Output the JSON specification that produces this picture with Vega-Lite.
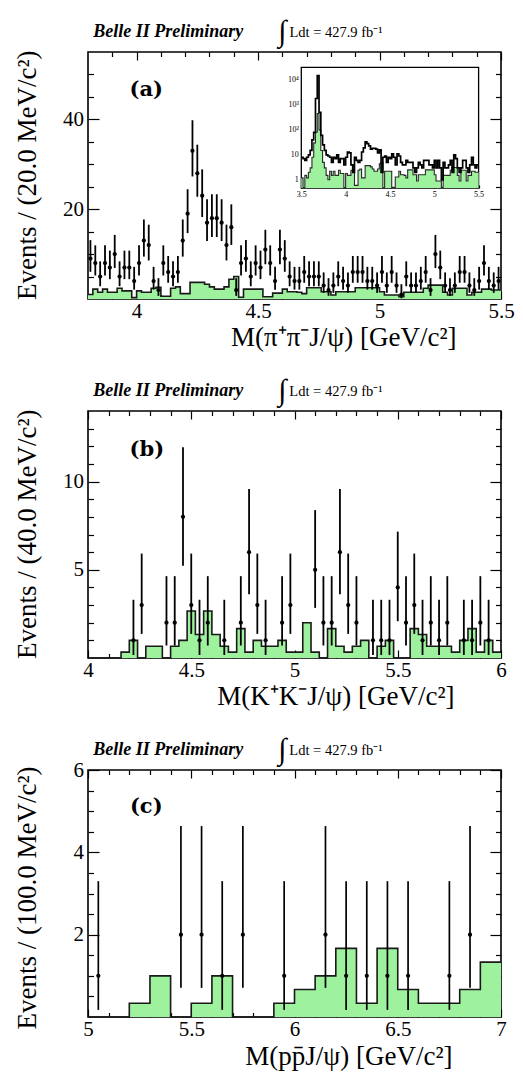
{
"$schema": "https://vega.github.io/schema/vega-lite/v6.json",
"background": "white",
"padding": {"left": 12, "top": 16, "right": 5, "bottom": 5},
"spacing": 24,
"config": {
  "view": {"stroke": "black", "strokeWidth": 1.6},
  "font": "Liberation Serif",
  "axis": {"grid": false, "domain": false, "labelFont": "Liberation Serif", "labelFontSize": 21, "labelColor": "black", "tickColor": "black", "tickWidth": 1.2, "titleFont": "Liberation Serif", "titleFontWeight": "normal", "titleColor": "black", "labelOverlap": false, "labelFlush": false, "labelBound": false}
},
"datasets": {
  "a_hist": [
    {"lo":3.80,"g":1.0},{"lo":3.82,"g":2.2},{"lo":3.84,"g":1.5},{"lo":3.86,"g":2.2},{"lo":3.88,"g":1.5},{"lo":3.90,"g":1.5},{"lo":3.92,"g":2.4},{"lo":3.94,"g":1.8},{"lo":3.96,"g":1.8},{"lo":3.98,"g":0.3},
    {"lo":4.00,"g":1.8},{"lo":4.02,"g":1.5},{"lo":4.04,"g":1.5},{"lo":4.06,"g":2.4},{"lo":4.08,"g":2.6},{"lo":4.10,"g":0.6},{"lo":4.12,"g":0.6},{"lo":4.14,"g":2.4},{"lo":4.16,"g":2.7},{"lo":4.18,"g":1.2},
    {"lo":4.20,"g":1.2},{"lo":4.22,"g":3.7},{"lo":4.24,"g":3.7},{"lo":4.26,"g":3.7},{"lo":4.28,"g":3.3},{"lo":4.30,"g":2.7},{"lo":4.32,"g":2.2},{"lo":4.34,"g":2.2},{"lo":4.36,"g":2.7},{"lo":4.38,"g":4.4},
    {"lo":4.40,"g":5.0},{"lo":4.42,"g":0.4},{"lo":4.44,"g":2.2},{"lo":4.46,"g":2.2},{"lo":4.48,"g":2.2},{"lo":4.50,"g":2.2},{"lo":4.52,"g":0.5},{"lo":4.54,"g":0.5},{"lo":4.56,"g":1.3},{"lo":4.58,"g":1.3},
    {"lo":4.60,"g":2.2},{"lo":4.62,"g":1.6},{"lo":4.64,"g":1.6},{"lo":4.66,"g":1.5},{"lo":4.68,"g":1.2},{"lo":4.70,"g":2.5},{"lo":4.72,"g":2.5},{"lo":4.74,"g":2.5},{"lo":4.76,"g":1.6},{"lo":4.78,"g":1.6},
    {"lo":4.80,"g":0.9},{"lo":4.82,"g":1.6},{"lo":4.84,"g":1.6},{"lo":4.86,"g":1.6},{"lo":4.88,"g":1.6},{"lo":4.90,"g":2.5},{"lo":4.92,"g":2.5},{"lo":4.94,"g":2.5},{"lo":4.96,"g":2.5},{"lo":4.98,"g":2.5},
    {"lo":5.00,"g":1.6},{"lo":5.02,"g":0.9},{"lo":5.04,"g":0.9},{"lo":5.06,"g":0.9},{"lo":5.08,"g":0.5},{"lo":5.10,"g":1.5},{"lo":5.12,"g":1.5},{"lo":5.14,"g":1.5},{"lo":5.16,"g":1.5},{"lo":5.18,"g":2.4},
    {"lo":5.20,"g":3.1},{"lo":5.22,"g":3.1},{"lo":5.24,"g":3.1},{"lo":5.26,"g":1.5},{"lo":5.28,"g":0.9},{"lo":5.30,"g":2.4},{"lo":5.32,"g":2.4},{"lo":5.34,"g":2.4},{"lo":5.36,"g":0.9},{"lo":5.38,"g":1.5},
    {"lo":5.40,"g":1.5},{"lo":5.42,"g":2.2},{"lo":5.44,"g":2.2},{"lo":5.46,"g":2.0},{"lo":5.48,"g":2.0},{"lo":5.50,"g":2.0}
  ],
  "a_pts": [
    {"m":3.81,"n":9,"el":6.057,"eh":13.11},{"m":3.83,"n":8,"el":5.232,"eh":11.95},{"m":3.85,"n":5,"el":2.84,"eh":8.382},{"m":3.87,"n":8,"el":5.232,"eh":11.95},{"m":3.89,"n":7,"el":4.419,"eh":10.77},
    {"m":3.91,"n":10,"el":6.891,"eh":14.27},{"m":3.93,"n":5,"el":2.84,"eh":8.382},{"m":3.95,"n":7,"el":4.419,"eh":10.77},{"m":3.97,"n":7,"el":4.419,"eh":10.77},{"m":3.99,"n":4,"el":2.086,"eh":7.163},
    {"m":4.01,"n":8,"el":5.232,"eh":11.95},{"m":4.03,"n":13,"el":9.441,"eh":17.7},{"m":4.05,"n":12,"el":8.585,"eh":16.55},{"m":4.07,"n":4,"el":2.086,"eh":7.163},{"m":4.09,"n":2,"el":0.708,"eh":4.638},
    {"m":4.11,"n":8,"el":5.232,"eh":11.95},{"m":4.13,"n":6,"el":3.62,"eh":9.584},{"m":4.15,"n":5,"el":2.84,"eh":8.382},{"m":4.17,"n":6,"el":3.62,"eh":9.584},{"m":4.19,"n":13,"el":9.441,"eh":17.7},
    {"m":4.21,"n":19,"el":14.67,"eh":24.44},{"m":4.23,"n":33,"el":27.29,"eh":39.81},{"m":4.25,"n":28,"el":22.77,"eh":34.36},{"m":4.27,"n":23,"el":18.25,"eh":28.87},{"m":4.29,"n":17,"el":12.91,"eh":22.21},
    {"m":4.31,"n":18,"el":13.79,"eh":23.33},{"m":4.33,"n":18,"el":13.79,"eh":23.33},{"m":4.35,"n":17,"el":12.91,"eh":22.21},{"m":4.37,"n":12,"el":8.585,"eh":16.55},{"m":4.39,"n":16,"el":12.04,"eh":21.08},
    {"m":4.41,"n":2,"el":0.708,"eh":4.638},{"m":4.43,"n":8,"el":5.232,"eh":11.95},{"m":4.45,"n":9,"el":6.057,"eh":13.11},{"m":4.47,"n":5,"el":2.84,"eh":8.382},{"m":4.49,"n":8,"el":5.232,"eh":11.95},
    {"m":4.51,"n":7,"el":4.419,"eh":10.77},{"m":4.53,"n":11,"el":7.734,"eh":15.41},{"m":4.55,"n":8,"el":5.232,"eh":11.95},{"m":4.57,"n":4,"el":2.086,"eh":7.163},{"m":4.59,"n":11,"el":7.734,"eh":15.41},
    {"m":4.61,"n":9,"el":6.057,"eh":13.11},{"m":4.63,"n":5,"el":2.84,"eh":8.382},{"m":4.65,"n":4,"el":2.086,"eh":7.163},{"m":4.67,"n":4,"el":2.086,"eh":7.163},{"m":4.69,"n":6,"el":3.62,"eh":9.584},
    {"m":4.71,"n":5,"el":2.84,"eh":8.382},{"m":4.73,"n":5,"el":2.84,"eh":8.382},{"m":4.75,"n":5,"el":2.84,"eh":8.382},{"m":4.77,"n":3,"el":1.367,"eh":5.918},{"m":4.79,"n":2,"el":0.708,"eh":4.638},
    {"m":4.81,"n":3,"el":1.367,"eh":5.918},{"m":4.83,"n":5,"el":2.84,"eh":8.382},{"m":4.85,"n":4,"el":2.086,"eh":7.163},{"m":4.87,"n":3,"el":1.367,"eh":5.918},{"m":4.89,"n":6,"el":3.62,"eh":9.584},
    {"m":4.91,"n":6,"el":3.62,"eh":9.584},{"m":4.93,"n":6,"el":3.62,"eh":9.584},{"m":4.95,"n":4,"el":2.086,"eh":7.163},{"m":4.97,"n":4,"el":2.086,"eh":7.163},{"m":4.99,"n":3,"el":1.367,"eh":5.918},
    {"m":5.01,"n":6,"el":3.62,"eh":9.584},{"m":5.03,"n":3,"el":1.367,"eh":5.918},{"m":5.05,"n":6,"el":3.62,"eh":9.584},{"m":5.07,"n":3,"el":1.367,"eh":5.918},{"m":5.09,"n":1,"el":0.173,"eh":3.3},
    {"m":5.11,"n":5,"el":2.84,"eh":8.382},{"m":5.13,"n":3,"el":1.367,"eh":5.918},{"m":5.15,"n":3,"el":1.367,"eh":5.918},{"m":5.17,"n":4,"el":2.086,"eh":7.163},{"m":5.19,"n":6,"el":3.62,"eh":9.584},
    {"m":5.21,"n":2,"el":0.708,"eh":4.638},{"m":5.23,"n":10,"el":6.891,"eh":14.27},{"m":5.25,"n":7,"el":4.419,"eh":10.77},{"m":5.27,"n":3,"el":1.367,"eh":5.918},{"m":5.29,"n":2,"el":0.708,"eh":4.638},
    {"m":5.31,"n":3,"el":1.367,"eh":5.918},{"m":5.33,"n":6,"el":3.62,"eh":9.584},{"m":5.35,"n":6,"el":3.62,"eh":9.584},{"m":5.37,"n":3,"el":1.367,"eh":5.918},{"m":5.39,"n":2,"el":0.708,"eh":4.638},
    {"m":5.41,"n":4,"el":2.086,"eh":7.163},{"m":5.43,"n":8,"el":5.232,"eh":11.95},{"m":5.45,"n":4,"el":2.086,"eh":7.163},{"m":5.47,"n":3,"el":1.367,"eh":5.918},{"m":5.49,"n":4,"el":2.086,"eh":7.163}
  ],
  "inset": [
    {"lo":3.50,"v":8,"g":1.2},{"lo":3.52,"v":7,"g":0.3},{"lo":3.54,"v":6,"g":1.5},{"lo":3.56,"v":8,"g":1.2},{"lo":3.58,"v":10,"g":2},
    {"lo":3.60,"v":15,"g":3},{"lo":3.62,"v":40,"g":8},{"lo":3.64,"v":80,"g":30},{"lo":3.66,"v":1800,"g":80},{"lo":3.68,"v":15000,"g":450},
    {"lo":3.70,"v":500,"g":100},{"lo":3.72,"v":60,"g":15},{"lo":3.74,"v":25,"g":5},{"lo":3.76,"v":15,"g":3},{"lo":3.78,"v":10,"g":1.5},
    {"lo":3.80,"v":9,"g":1.0},{"lo":3.82,"v":8,"g":2.2},{"lo":3.84,"v":5,"g":1.5},{"lo":3.86,"v":8,"g":2.2},{"lo":3.88,"v":7,"g":1.5},{"lo":3.90,"v":10,"g":1.5},{"lo":3.92,"v":5,"g":2.4},{"lo":3.94,"v":7,"g":1.8},{"lo":3.96,"v":7,"g":1.8},{"lo":3.98,"v":4,"g":0.3},
    {"lo":4.00,"v":8,"g":1.8},{"lo":4.02,"v":13,"g":1.5},{"lo":4.04,"v":12,"g":1.5},{"lo":4.06,"v":4,"g":2.4},{"lo":4.08,"v":2,"g":2.6},{"lo":4.10,"v":8,"g":0.6},{"lo":4.12,"v":6,"g":0.6},{"lo":4.14,"v":5,"g":2.4},{"lo":4.16,"v":6,"g":2.7},{"lo":4.18,"v":13,"g":1.2},
    {"lo":4.20,"v":19,"g":1.2},{"lo":4.22,"v":33,"g":3.7},{"lo":4.24,"v":28,"g":3.7},{"lo":4.26,"v":23,"g":3.7},{"lo":4.28,"v":17,"g":3.3},{"lo":4.30,"v":18,"g":2.7},{"lo":4.32,"v":18,"g":2.2},{"lo":4.34,"v":17,"g":2.2},{"lo":4.36,"v":12,"g":2.7},{"lo":4.38,"v":16,"g":4.4},
    {"lo":4.40,"v":2,"g":5.0},{"lo":4.42,"v":8,"g":0.4},{"lo":4.44,"v":9,"g":2.2},{"lo":4.46,"v":5,"g":2.2},{"lo":4.48,"v":8,"g":2.2},{"lo":4.50,"v":7,"g":2.2},{"lo":4.52,"v":11,"g":0.5},{"lo":4.54,"v":8,"g":0.5},{"lo":4.56,"v":4,"g":1.3},{"lo":4.58,"v":11,"g":1.3},
    {"lo":4.60,"v":9,"g":2.2},{"lo":4.62,"v":5,"g":1.6},{"lo":4.64,"v":4,"g":1.6},{"lo":4.66,"v":4,"g":1.5},{"lo":4.68,"v":6,"g":1.2},{"lo":4.70,"v":5,"g":2.5},{"lo":4.72,"v":5,"g":2.5},{"lo":4.74,"v":5,"g":2.5},{"lo":4.76,"v":3,"g":1.6},{"lo":4.78,"v":2,"g":1.6},
    {"lo":4.80,"v":3,"g":0.9},{"lo":4.82,"v":5,"g":1.6},{"lo":4.84,"v":4,"g":1.6},{"lo":4.86,"v":3,"g":1.6},{"lo":4.88,"v":6,"g":1.6},{"lo":4.90,"v":6,"g":2.5},{"lo":4.92,"v":6,"g":2.5},{"lo":4.94,"v":4,"g":2.5},{"lo":4.96,"v":4,"g":2.5},{"lo":4.98,"v":3,"g":2.5},
    {"lo":5.00,"v":6,"g":1.6},{"lo":5.02,"v":3,"g":0.9},{"lo":5.04,"v":6,"g":0.9},{"lo":5.06,"v":3,"g":0.9},{"lo":5.08,"v":1,"g":0.5},{"lo":5.10,"v":5,"g":1.5},{"lo":5.12,"v":3,"g":1.5},{"lo":5.14,"v":3,"g":1.5},{"lo":5.16,"v":4,"g":1.5},{"lo":5.18,"v":6,"g":2.4},
    {"lo":5.20,"v":2,"g":3.1},{"lo":5.22,"v":10,"g":3.1},{"lo":5.24,"v":7,"g":3.1},{"lo":5.26,"v":3,"g":1.5},{"lo":5.28,"v":2,"g":0.9},{"lo":5.30,"v":3,"g":2.4},{"lo":5.32,"v":6,"g":2.4},{"lo":5.34,"v":6,"g":2.4},{"lo":5.36,"v":3,"g":0.9},{"lo":5.38,"v":2,"g":1.5},
    {"lo":5.40,"v":4,"g":1.5},{"lo":5.42,"v":8,"g":2.2},{"lo":5.44,"v":4,"g":2.2},{"lo":5.46,"v":3,"g":2.0},{"lo":5.48,"v":4,"g":2.0},{"lo":5.50,"v":4,"g":2.0}
  ],
  "b_hist": [
    {"lo":4.00,"g":0},{"lo":4.04,"g":0},{"lo":4.08,"g":0},{"lo":4.12,"g":0},{"lo":4.16,"g":0.333},{"lo":4.20,"g":1},{"lo":4.24,"g":0},{"lo":4.28,"g":0.667},{"lo":4.32,"g":0.667},{"lo":4.36,"g":0},
    {"lo":4.40,"g":0.667},{"lo":4.44,"g":1},{"lo":4.48,"g":2.667},{"lo":4.52,"g":1.333},{"lo":4.56,"g":2.667},{"lo":4.60,"g":1.333},{"lo":4.64,"g":0.667},{"lo":4.68,"g":0.333},{"lo":4.72,"g":1.667},{"lo":4.76,"g":0.333},
    {"lo":4.80,"g":1},{"lo":4.84,"g":0.667},{"lo":4.88,"g":0.667},{"lo":4.92,"g":1},{"lo":4.96,"g":0.333},{"lo":5.00,"g":0.333},{"lo":5.04,"g":2},{"lo":5.08,"g":0.333},{"lo":5.12,"g":0},{"lo":5.16,"g":1.667},
    {"lo":5.20,"g":0.667},{"lo":5.24,"g":0.333},{"lo":5.28,"g":0.667},{"lo":5.32,"g":1},{"lo":5.36,"g":0},{"lo":5.40,"g":0.667},{"lo":5.44,"g":1},{"lo":5.48,"g":0},{"lo":5.52,"g":0},{"lo":5.56,"g":1.667},
    {"lo":5.60,"g":1.333},{"lo":5.64,"g":0.667},{"lo":5.68,"g":0.667},{"lo":5.72,"g":0.667},{"lo":5.76,"g":0.333},{"lo":5.80,"g":1},{"lo":5.84,"g":1.667},{"lo":5.88,"g":0.333},{"lo":5.92,"g":1},{"lo":5.96,"g":0.333},{"lo":6.00,"g":0.333}
  ],
  "b_pts": [
    {"m":4.22,"n":1,"el":0.173,"eh":3.3},{"m":4.26,"n":3,"el":1.367,"eh":5.918},{"m":4.38,"n":2,"el":0.708,"eh":4.638},{"m":4.42,"n":2,"el":0.708,"eh":4.638},{"m":4.46,"n":8,"el":5.232,"eh":11.95},
    {"m":4.50,"n":3,"el":1.367,"eh":5.918},{"m":4.54,"n":1,"el":0.173,"eh":3.3},{"m":4.58,"n":2,"el":0.708,"eh":4.638},{"m":4.66,"n":1,"el":0.173,"eh":3.3},{"m":4.74,"n":2,"el":0.708,"eh":4.638},
    {"m":4.78,"n":6,"el":3.62,"eh":9.584},{"m":4.82,"n":3,"el":1.367,"eh":5.918},{"m":4.86,"n":1,"el":0.173,"eh":3.3},{"m":4.94,"n":2,"el":0.708,"eh":4.638},{"m":4.98,"n":3,"el":1.367,"eh":5.918},
    {"m":5.10,"n":5,"el":2.84,"eh":8.382},{"m":5.14,"n":2,"el":0.708,"eh":4.638},{"m":5.18,"n":2,"el":0.708,"eh":4.638},{"m":5.22,"n":6,"el":3.62,"eh":9.584},{"m":5.26,"n":3,"el":1.367,"eh":5.918},
    {"m":5.30,"n":2,"el":0.708,"eh":4.638},{"m":5.38,"n":1,"el":0.173,"eh":3.3},{"m":5.42,"n":1,"el":0.173,"eh":3.3},{"m":5.46,"n":1,"el":0.173,"eh":3.3},{"m":5.50,"n":4,"el":2.086,"eh":7.163},
    {"m":5.54,"n":2,"el":0.708,"eh":4.638},{"m":5.58,"n":3,"el":1.367,"eh":5.918},{"m":5.62,"n":1,"el":0.173,"eh":3.3},{"m":5.66,"n":2,"el":0.708,"eh":4.638},{"m":5.70,"n":1,"el":0.173,"eh":3.3},
    {"m":5.74,"n":2,"el":0.708,"eh":4.638},{"m":5.82,"n":1,"el":0.173,"eh":3.3},{"m":5.86,"n":1,"el":0.173,"eh":3.3},{"m":5.90,"n":2,"el":0.708,"eh":4.638},{"m":5.94,"n":1,"el":0.173,"eh":3.3}
  ],
  "c_hist": [
    {"lo":5.0,"g":0},{"lo":5.1,"g":0},{"lo":5.2,"g":0.333},{"lo":5.3,"g":1},{"lo":5.4,"g":0},{"lo":5.5,"g":0.333},{"lo":5.6,"g":1},{"lo":5.7,"g":0},{"lo":5.8,"g":0},{"lo":5.9,"g":0.333},
    {"lo":6.0,"g":0.667},{"lo":6.1,"g":1},{"lo":6.2,"g":1.667},{"lo":6.3,"g":0.333},{"lo":6.4,"g":1.667},{"lo":6.5,"g":0.667},{"lo":6.6,"g":0.333},{"lo":6.7,"g":0.333},{"lo":6.8,"g":0.667},{"lo":6.9,"g":1.333},{"lo":7.0,"g":1.333}
  ],
  "c_pts": [
    {"m":5.05,"n":1,"el":0.173,"eh":3.3},{"m":5.45,"n":2,"el":0.708,"eh":4.638},{"m":5.55,"n":2,"el":0.708,"eh":4.638},{"m":5.65,"n":1,"el":0.173,"eh":3.3},{"m":5.75,"n":2,"el":0.708,"eh":4.638},
    {"m":5.95,"n":1,"el":0.173,"eh":3.3},{"m":6.15,"n":2,"el":0.708,"eh":4.638},{"m":6.25,"n":1,"el":0.173,"eh":3.3},{"m":6.35,"n":1,"el":0.173,"eh":3.3},{"m":6.45,"n":1,"el":0.173,"eh":3.3},
    {"m":6.55,"n":1,"el":0.173,"eh":3.3},{"m":6.75,"n":1,"el":0.173,"eh":3.3},{"m":6.85,"n":2,"el":0.708,"eh":4.638}
  ]
},
"vconcat": [
{
  "width": 413, "height": 247,
  "layer": [
    {
      "layer": [
        {"data": {"name": "a_hist"}, "mark": {"type": "area", "interpolate": "step-after", "fill": "#9ef29e"},
         "encoding": {
           "x": {"field": "lo", "type": "quantitative", "scale": {"domain": [3.8, 5.5], "nice": false, "zero": false},
                 "axis": {"orient": "bottom", "values": [3.9,4,4.1,4.2,4.3,4.4,4.5,4.6,4.7,4.8,4.9,5,5.1,5.2,5.3,5.4,5.5], "format": "~g",
                          "labelExpr": "abs(datum.value*2-round(datum.value*2))<0.001 ? datum.label : ''",
                          "tickSize": {"condition": {"test": "abs(datum.value*2-round(datum.value*2))<0.001", "value": -8}, "value": -4.5},
                          "labelPadding": 9, "title": "M(π⁺π⁻J/ψ) [GeV/c²]", "titleFontSize": 27, "titleX": 368, "titleY": 38, "titleAlign": "right", "titleBaseline": "middle"}},
           "y": {"field": "g", "type": "quantitative", "stack": null, "scale": {"domain": [0, 55], "nice": false},
                 "axis": {"orient": "left", "values": [5,10,15,20,25,30,35,40,45,50], "format": "~g",
                          "labelExpr": "datum.value % 20 === 0 ? datum.label : ''",
                          "tickSize": {"condition": {"test": "datum.value % 20 === 0", "value": -11}, "value": -5.5},
                          "labelPadding": 15.5, "title": "Events / (20.0 MeV/c²)", "titleFontSize": 27, "titleX": -61, "titleY": -2, "titleAngle": -90, "titleAlign": "right", "titleBaseline": "middle"}}
         }},
        {"data": {"name": "a_hist"}, "mark": {"type": "line", "interpolate": "step-after", "stroke": "#1a1a1a", "strokeWidth": 1.6},
         "encoding": {
           "x": {"field": "lo", "type": "quantitative", "scale": {"domain": [3.8, 5.5], "nice": false, "zero": false},
                 "axis": {"orient": "top", "values": [3.9,4,4.1,4.2,4.3,4.4,4.5,4.6,4.7,4.8,4.9,5,5.1,5.2,5.3,5.4,5.5], "labels": false, "title": null,
                          "tickSize": {"condition": {"test": "abs(datum.value*2-round(datum.value*2))<0.001", "value": -8}, "value": -4.5}}},
           "y": {"field": "g", "type": "quantitative", "scale": {"domain": [0, 55], "nice": false},
                 "axis": {"orient": "right", "values": [5,10,15,20,25,30,35,40,45,50], "labels": false, "title": null,
                          "tickSize": {"condition": {"test": "datum.value % 20 === 0", "value": -11}, "value": -5.5}}}
         }},
        {"data": {"name": "a_pts"}, "mark": {"type": "rule", "strokeWidth": 1.8, "color": "black"},
         "encoding": {
           "x": {"field": "m", "type": "quantitative", "scale": {"domain": [3.8, 5.5], "nice": false, "zero": false}, "axis": null},
           "y": {"field": "el", "type": "quantitative", "scale": {"domain": [0, 55], "nice": false}, "axis": null},
           "y2": {"field": "eh"}
         }},
        {"data": {"name": "a_pts"}, "mark": {"type": "circle", "size": 18, "color": "black", "opacity": 1},
         "encoding": {
           "x": {"field": "m", "type": "quantitative", "scale": {"domain": [3.8, 5.5], "nice": false, "zero": false}, "axis": null},
           "y": {"field": "n", "type": "quantitative", "scale": {"domain": [0, 55], "nice": false}, "axis": null}
         }},
        {"data": {"values": [{"t": "Belle II Preliminary"}]}, "mark": {"type": "text", "font": "Liberation Serif", "fontStyle": "italic", "fontWeight": "bold", "fontSize": 18, "align": "left", "baseline": "alphabetic", "color": "black"},
         "encoding": {"x": {"datum": 3.8218, "type": "quantitative", "axis": null}, "y": {"datum": 58.34, "type": "quantitative", "axis": null}, "text": {"field": "t"}}},
        {"data": {"values": [{"t": "∫"}]}, "mark": {"type": "text", "font": "Liberation Serif", "fontSize": 30, "align": "center", "baseline": "middle", "color": "black"},
         "encoding": {"x": {"datum": 4.6, "type": "quantitative", "axis": null}, "y": {"datum": 59.45, "type": "quantitative", "axis": null}, "text": {"field": "t"}}},
        {"data": {"values": [{"t": "Ldt = 427.9 fb⁻¹"}]}, "mark": {"type": "text", "font": "Liberation Serif", "fontSize": 14.5, "align": "left", "baseline": "alphabetic", "color": "black"},
         "encoding": {"x": {"datum": 4.629, "type": "quantitative", "axis": null}, "y": {"datum": 58.34, "type": "quantitative", "axis": null}, "text": {"field": "t"}}},
        {"data": {"values": [{"t": "(a)"}]}, "mark": {"type": "text", "font": "DejaVu Serif", "fontWeight": "bold", "fontSize": 21, "align": "center", "baseline": "middle", "color": "black"},
         "encoding": {"x": {"datum": 4.04, "type": "quantitative", "axis": null}, "y": {"datum": 46.5, "type": "quantitative", "axis": null}, "text": {"field": "t"}}}
      ],
      "resolve": {"axis": {"x": "independent", "y": "independent"}}
    },
    {
      "layer": [
        {"data": {"values": [{}]}, "mark": {"type": "rect", "fill": "white", "stroke": "black", "strokeWidth": 1.3},
         "encoding": {
           "x": {"datum": 3.5, "type": "quantitative", "scale": {"domain": [3.5, 5.5], "range": [213.3, 390.6], "nice": false, "zero": false}, "axis": null},
           "x2": {"datum": 5.5},
           "y": {"datum": 0.47, "type": "quantitative", "scale": {"type": "log", "domain": [0.47, 32000], "range": [136, 15.3], "nice": false, "clamp": true}, "axis": null},
           "y2": {"datum": 32000}
         }},
        {"data": {"name": "inset"}, "mark": {"type": "area", "interpolate": "step-after", "fill": "#9ef29e"},
         "encoding": {
           "x": {"field": "lo", "type": "quantitative", "scale": {"domain": [3.5, 5.5], "range": [213.3, 390.6], "nice": false, "zero": false},
                 "axis": {"orient": "bottom", "offset": -111, "values": [3.5,4,4.5,5,5.5], "format": "~g", "labelFontSize": 8, "tickSize": -3, "labelPadding": 5, "title": null}},
           "y": {"field": "g", "type": "quantitative", "stack": null, "scale": {"type": "log", "domain": [0.47, 32000], "range": [136, 15.3], "nice": false, "clamp": true},
                 "axis": {"orient": "left", "offset": -213.3, "values": [1,10,100,1000,10000], "labelFontSize": 8, "tickSize": -4, "labelPadding": 7, "title": null,
                          "labelExpr": "datum.value >= 10000 ? '10⁴' : datum.value >= 1000 ? '10³' : datum.value >= 100 ? '10²' : datum.value >= 10 ? '10' : '1'"}},
           "y2": {"datum": 0.47}
         }},
        {"data": {"name": "inset"}, "mark": {"type": "line", "interpolate": "step-after", "stroke": "#2a2a2a", "strokeWidth": 1.1},
         "encoding": {
           "x": {"field": "lo", "type": "quantitative", "scale": {"domain": [3.5, 5.5], "range": [213.3, 390.6], "nice": false, "zero": false}, "axis": null},
           "y": {"field": "g", "type": "quantitative", "scale": {"type": "log", "domain": [0.47, 32000], "range": [136, 15.3], "nice": false, "clamp": true}, "axis": null}
         }},
        {"data": {"name": "inset"}, "mark": {"type": "line", "interpolate": "step-after", "stroke": "black", "strokeWidth": 1.7},
         "encoding": {
           "x": {"field": "lo", "type": "quantitative", "scale": {"domain": [3.5, 5.5], "range": [213.3, 390.6], "nice": false, "zero": false}, "axis": null},
           "y": {"field": "v", "type": "quantitative", "scale": {"type": "log", "domain": [0.47, 32000], "range": [136, 15.3], "nice": false, "clamp": true}, "axis": null}
         }}
      ],
      "resolve": {"axis": {"x": "independent", "y": "independent"}}
    }
  ],
  "resolve": {"scale": {"x": "independent", "y": "independent"}}
},
{
  "width": 413, "height": 247,
  "layer": [
    {"data": {"name": "b_hist"}, "mark": {"type": "area", "interpolate": "step-after", "fill": "#9ef29e"},
     "encoding": {
       "x": {"field": "lo", "type": "quantitative", "scale": {"domain": [4, 6], "nice": false, "zero": false},
             "axis": {"orient": "bottom", "values": [4,4.1,4.2,4.3,4.4,4.5,4.6,4.7,4.8,4.9,5,5.1,5.2,5.3,5.4,5.5,5.6,5.7,5.8,5.9,6], "format": "~g",
                      "labelExpr": "abs(datum.value*2-round(datum.value*2))<0.001 ? datum.label : ''",
                      "tickSize": {"condition": {"test": "abs(datum.value*2-round(datum.value*2))<0.001", "value": -8}, "value": -4.5},
                      "labelPadding": 9, "title": "M(K⁺K⁻J/ψ) [GeV/c²]", "titleFontSize": 27, "titleX": 366, "titleY": 38, "titleAlign": "right", "titleBaseline": "middle"}},
       "y": {"field": "g", "type": "quantitative", "stack": null, "scale": {"domain": [0, 14], "nice": false},
             "axis": {"orient": "left", "values": [1,2,3,4,5,6,7,8,9,10,11,12,13], "format": "~g",
                      "labelExpr": "datum.value % 5 === 0 ? datum.label : ''",
                      "tickSize": {"condition": {"test": "datum.value % 5 === 0", "value": -11}, "value": -5.5},
                      "labelPadding": 15.5, "title": "Events / (40.0 MeV/c²)", "titleFontSize": 27, "titleX": -61, "titleY": -2, "titleAngle": -90, "titleAlign": "right", "titleBaseline": "middle"}}
     }},
    {"data": {"name": "b_hist"}, "mark": {"type": "line", "interpolate": "step-after", "stroke": "#1a1a1a", "strokeWidth": 1.6},
     "encoding": {
       "x": {"field": "lo", "type": "quantitative", "scale": {"domain": [4, 6], "nice": false, "zero": false},
             "axis": {"orient": "top", "values": [4,4.1,4.2,4.3,4.4,4.5,4.6,4.7,4.8,4.9,5,5.1,5.2,5.3,5.4,5.5,5.6,5.7,5.8,5.9,6], "labels": false, "title": null,
                      "tickSize": {"condition": {"test": "abs(datum.value*2-round(datum.value*2))<0.001", "value": -8}, "value": -4.5}}},
       "y": {"field": "g", "type": "quantitative", "scale": {"domain": [0, 14], "nice": false},
             "axis": {"orient": "right", "values": [1,2,3,4,5,6,7,8,9,10,11,12,13], "labels": false, "title": null,
                      "tickSize": {"condition": {"test": "datum.value % 5 === 0", "value": -11}, "value": -5.5}}}
     }},
    {"data": {"name": "b_pts"}, "mark": {"type": "rule", "strokeWidth": 1.8, "color": "black"},
     "encoding": {
       "x": {"field": "m", "type": "quantitative", "scale": {"domain": [4, 6], "nice": false, "zero": false}, "axis": null},
       "y": {"field": "el", "type": "quantitative", "scale": {"domain": [0, 14], "nice": false}, "axis": null},
       "y2": {"field": "eh"}
     }},
    {"data": {"name": "b_pts"}, "mark": {"type": "circle", "size": 18, "color": "black", "opacity": 1},
     "encoding": {
       "x": {"field": "m", "type": "quantitative", "scale": {"domain": [4, 6], "nice": false, "zero": false}, "axis": null},
       "y": {"field": "n", "type": "quantitative", "scale": {"domain": [0, 14], "nice": false}, "axis": null}
     }},
    {"data": {"values": [{"t": "Belle II Preliminary"}]}, "mark": {"type": "text", "font": "Liberation Serif", "fontStyle": "italic", "fontWeight": "bold", "fontSize": 18, "align": "left", "baseline": "alphabetic", "color": "black"},
     "encoding": {"x": {"datum": 4.0257, "type": "quantitative", "axis": null}, "y": {"datum": 14.85, "type": "quantitative", "axis": null}, "text": {"field": "t"}}},
    {"data": {"values": [{"t": "∫"}]}, "mark": {"type": "text", "font": "Liberation Serif", "fontSize": 30, "align": "center", "baseline": "middle", "color": "black"},
     "encoding": {"x": {"datum": 4.941, "type": "quantitative", "axis": null}, "y": {"datum": 15.13, "type": "quantitative", "axis": null}, "text": {"field": "t"}}},
    {"data": {"values": [{"t": "Ldt = 427.9 fb⁻¹"}]}, "mark": {"type": "text", "font": "Liberation Serif", "fontSize": 14.5, "align": "left", "baseline": "alphabetic", "color": "black"},
     "encoding": {"x": {"datum": 4.975, "type": "quantitative", "axis": null}, "y": {"datum": 14.85, "type": "quantitative", "axis": null}, "text": {"field": "t"}}},
    {"data": {"values": [{"t": "(b)"}]}, "mark": {"type": "text", "font": "DejaVu Serif", "fontWeight": "bold", "fontSize": 21, "align": "center", "baseline": "middle", "color": "black"},
     "encoding": {"x": {"datum": 4.285, "type": "quantitative", "axis": null}, "y": {"datum": 11.77, "type": "quantitative", "axis": null}, "text": {"field": "t"}}}
  ],
  "resolve": {"axis": {"x": "independent", "y": "independent"}}
},
{
  "width": 413, "height": 247,
  "layer": [
    {"data": {"name": "c_hist"}, "mark": {"type": "area", "interpolate": "step-after", "fill": "#9ef29e"},
     "encoding": {
       "x": {"field": "lo", "type": "quantitative", "scale": {"domain": [5, 7], "nice": false, "zero": false},
             "axis": {"orient": "bottom", "values": [5,5.1,5.2,5.3,5.4,5.5,5.6,5.7,5.8,5.9,6,6.1,6.2,6.3,6.4,6.5,6.6,6.7,6.8,6.9,7], "format": "~g",
                      "labelExpr": "abs(datum.value*2-round(datum.value*2))<0.001 ? datum.label : ''",
                      "tickSize": {"condition": {"test": "abs(datum.value*2-round(datum.value*2))<0.001", "value": -8}, "value": -4.5},
                      "labelPadding": 9, "title": "M(pp̄J/ψ) [GeV/c²]", "titleFontSize": 27, "titleX": 364, "titleY": 39, "titleAlign": "right", "titleBaseline": "middle"}},
       "y": {"field": "g", "type": "quantitative", "stack": null, "scale": {"domain": [0, 6], "nice": false},
             "axis": {"orient": "left", "values": [0.5,1,1.5,2,2.5,3,3.5,4,4.5,5,5.5,6], "format": "~g",
                      "labelExpr": "datum.value % 2 === 0 ? datum.label : ''",
                      "tickSize": {"condition": {"test": "datum.value % 2 === 0", "value": -11}, "value": -5.5},
                      "labelPadding": 15.5, "title": "Events / (100.0 MeV/c²)", "titleFontSize": 27, "titleX": -61, "titleY": -4, "titleAngle": -90, "titleAlign": "right", "titleBaseline": "middle"}}
     }},
    {"data": {"name": "c_hist"}, "mark": {"type": "line", "interpolate": "step-after", "stroke": "#1a1a1a", "strokeWidth": 1.6},
     "encoding": {
       "x": {"field": "lo", "type": "quantitative", "scale": {"domain": [5, 7], "nice": false, "zero": false},
             "axis": {"orient": "top", "values": [5,5.1,5.2,5.3,5.4,5.5,5.6,5.7,5.8,5.9,6,6.1,6.2,6.3,6.4,6.5,6.6,6.7,6.8,6.9,7], "labels": false, "title": null,
                      "tickSize": {"condition": {"test": "abs(datum.value*2-round(datum.value*2))<0.001", "value": -8}, "value": -4.5}}},
       "y": {"field": "g", "type": "quantitative", "scale": {"domain": [0, 6], "nice": false},
             "axis": {"orient": "right", "values": [0.5,1,1.5,2,2.5,3,3.5,4,4.5,5,5.5,6], "labels": false, "title": null,
                      "tickSize": {"condition": {"test": "datum.value % 2 === 0", "value": -11}, "value": -5.5}}}
     }},
    {"data": {"name": "c_pts"}, "mark": {"type": "rule", "strokeWidth": 1.7, "color": "black"},
     "encoding": {
       "x": {"field": "m", "type": "quantitative", "scale": {"domain": [5, 7], "nice": false, "zero": false}, "axis": null},
       "y": {"field": "el", "type": "quantitative", "scale": {"domain": [0, 6], "nice": false}, "axis": null},
       "y2": {"field": "eh"}
     }},
    {"data": {"name": "c_pts"}, "mark": {"type": "circle", "size": 18, "color": "black", "opacity": 1},
     "encoding": {
       "x": {"field": "m", "type": "quantitative", "scale": {"domain": [5, 7], "nice": false, "zero": false}, "axis": null},
       "y": {"field": "n", "type": "quantitative", "scale": {"domain": [0, 6], "nice": false}, "axis": null}
     }},
    {"data": {"values": [{"t": "Belle II Preliminary"}]}, "mark": {"type": "text", "font": "Liberation Serif", "fontStyle": "italic", "fontWeight": "bold", "fontSize": 18, "align": "left", "baseline": "alphabetic", "color": "black"},
     "encoding": {"x": {"datum": 5.0257, "type": "quantitative", "axis": null}, "y": {"datum": 6.364, "type": "quantitative", "axis": null}, "text": {"field": "t"}}},
    {"data": {"values": [{"t": "∫"}]}, "mark": {"type": "text", "font": "Liberation Serif", "fontSize": 30, "align": "center", "baseline": "middle", "color": "black"},
     "encoding": {"x": {"datum": 5.941, "type": "quantitative", "axis": null}, "y": {"datum": 6.486, "type": "quantitative", "axis": null}, "text": {"field": "t"}}},
    {"data": {"values": [{"t": "Ldt = 427.9 fb⁻¹"}]}, "mark": {"type": "text", "font": "Liberation Serif", "fontSize": 14.5, "align": "left", "baseline": "alphabetic", "color": "black"},
     "encoding": {"x": {"datum": 5.975, "type": "quantitative", "axis": null}, "y": {"datum": 6.364, "type": "quantitative", "axis": null}, "text": {"field": "t"}}},
    {"data": {"values": [{"t": "(c)"}]}, "mark": {"type": "text", "font": "DejaVu Serif", "fontWeight": "bold", "fontSize": 21, "align": "center", "baseline": "middle", "color": "black"},
     "encoding": {"x": {"datum": 5.282, "type": "quantitative", "axis": null}, "y": {"datum": 5.1, "type": "quantitative", "axis": null}, "text": {"field": "t"}}}
  ],
  "resolve": {"axis": {"x": "independent", "y": "independent"}}
}
]
}
